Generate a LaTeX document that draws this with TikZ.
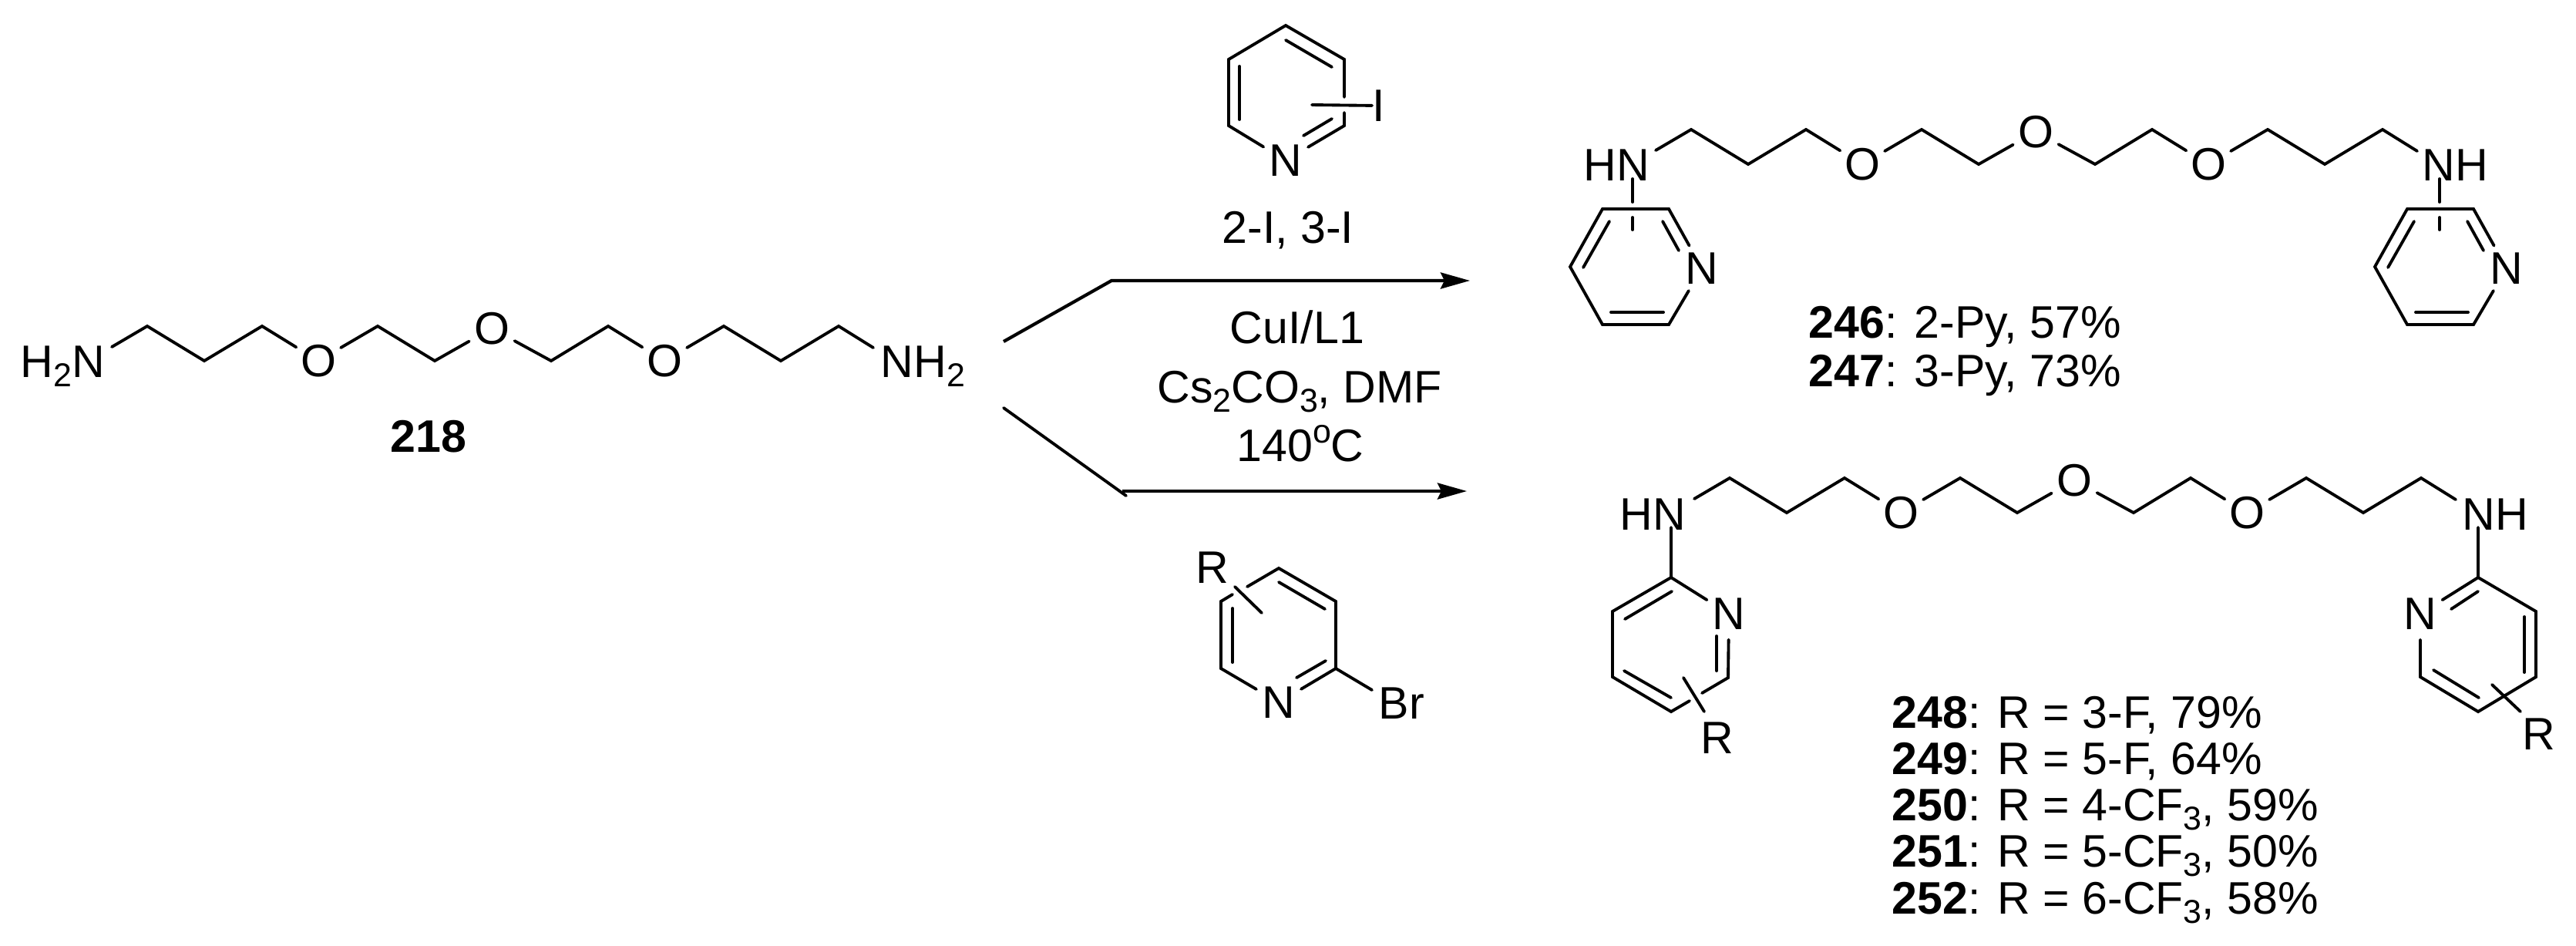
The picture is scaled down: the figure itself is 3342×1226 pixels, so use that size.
\documentclass[tikz,border=0pt]{standalone}
\usepackage{fontspec}
\setmainfont{Liberation Sans}
\usetikzlibrary{arrows.meta}
\newcommand{\lowered}[1]{\raisebox{-0.21em}{\fontsize{12.2}{12.2}\selectfont #1}}
\newcommand{\raised}[1]{\raisebox{0.40em}{\fontsize{12.2}{12.2}\selectfont #1}}
\newcommand{\entry}[4]{%
  \node[lbl,anchor=base west] (#1) at (#2,#3) {\textbf{#1}: #4};}
\tikzset{
  bond/.style={line width=1.1pt,line cap=round},
  lbl/.style={font=\fontsize{16.8}{16.8}\selectfont,inner sep=0pt,anchor=base},
  atom/.style={font=\fontsize{16.8}{16.8}\selectfont,circle,inner sep=0pt,minimum size=0.66cm},
  rxn/.style={line width=1.2pt,-{Stealth[length=0.38cm,width=0.21cm,inset=0.05cm]}},
}
% the ether chain, same drawing for 218 and both products
\newcommand{\linker}[3]{%
  \begin{scope}[shift={(#2,#3)}]
    \foreach \n/\x/\y in {s/145/450,c1/191/423,c2/265/468,c3/340/423,c4/490/423,
      c5/564/468,c6/715/468,c7/789/423,c8/939/423,c9/1013/468,c10/1088/423,e/1133/451}{%
      \coordinate (#1\n) at (\x,\y);
    }
    \node[atom] (#1o1) at (413,468) {O};
    \node[atom] (#1o2) at (638,426) {O};
    \node[atom] (#1o3) at (862,468) {O};
    \draw[bond] (#1s) -- (#1c1) -- (#1c2) -- (#1c3) -- (#1o1) -- (#1c4) -- (#1c5)
      -- (#1o2) -- (#1c6) -- (#1c7) -- (#1o3) -- (#1c8) -- (#1c9) -- (#1c10) -- (#1e);
  \end{scope}}
\begin{document}
\begin{tikzpicture}[x=0.01cm,y=-0.01cm]
  \useasboundingbox (0,0) rectangle (3342,1226);

  % starting diamine
  \linker{a}{0}{0}
  \node[lbl,anchor=base west] (h2n) at (26,489) {H\lowered{2}N};
  \node[lbl,anchor=base west] (nh2) at (1142,489) {NH\lowered{2}};
  \node[lbl] (n218) at (556,586) {\textbf{218}};

  % products
  \linker{b}{2003}{-255}
  \linker{d}{2053}{197}
  \node[lbl,anchor=base west] (hnb) at (2054,234) {HN};
  \node[lbl,anchor=base west] (nhb) at (3142,234) {NH};
  \node[lbl,anchor=base west] (hnd) at (2101,687) {HN};
  \node[lbl,anchor=base west] (nhd) at (3194,687) {NH};

  % iodopyridine
  \foreach \n/\x/\y in {ia1/1668/33,ia2/1744/77,ia3/1744/163,ia5/1594/163,ia6/1594/77,
    ib1/1744/126,ib2/1744/146,ib3/1702/136,ic1/1668/52,ic2/1728/87,
    ic3/1608/86,ic4/1608/155,ic5/1691/176,ic6/1728/154}{%
    \coordinate (\n) at (\x,\y);
  }
  \node[atom] (iN) at (1668,208) {N};
  \node[lbl,anchor=center] (iI) at (1789,137) {I};
  \draw[bond] (iN) -- (ia5) -- (ia6) -- (ia1) -- (ia2) -- (ib1);
  \draw[bond] (ib2) -- (ia3) -- (iN);
  \draw[bond] (ib3) -- (iI);
  \draw[bond] (ic1) -- (ic2);
  \draw[bond] (ic3) -- (ic4);
  \draw[bond] (ic5) -- (ic6);
  \node[lbl] (iname) at (1671,315) {2-I, 3-I};

  % bromopyridine
  \foreach \n/\x/\y in {ra1/1659/737,ra2/1733/780,ra3/1733/867,ra5/1584/867,ra6/1584/780,
    rb1/1618/761,rb2/1599/771,rb3/1602/761,rb4/1637/795,rc1/1659/755,rc2/1719/790,
    rc3/1599/789,rc4/1599/859,rc5/1682/879,rc6/1720/857,rd/1780/895}{%
    \coordinate (\n) at (\x,\y);
  }
  \node[atom] (rN) at (1659,911) {N};
  \node[lbl] (rR) at (1573,756) {R};
  \node[lbl,anchor=base west] (rBr) at (1788,932) {Br};
  \draw[bond] (rb1) -- (ra1) -- (ra2) -- (ra3) -- (rN) -- (ra5) -- (ra6) -- (rb2);
  \draw[bond] (ra3) -- (rd);
  \draw[bond] (rb3) -- (rb4);
  \draw[bond] (rc1) -- (rc2);
  \draw[bond] (rc3) -- (rc4);
  \draw[bond] (rc5) -- (rc6);

  % arrows
  \foreach \n/\x/\y in {u1/1302/443,u2/1442/364,u3/1907/364,
    v1/1302/529,v2/1461/643,v3/1456/637,v4/1903/637}{%
    \coordinate (\n) at (\x,\y);
  }
  \draw[rxn] (u1) -- (u2) -- (u3);
  \draw[bond] (v1) -- (v2);
  \draw[rxn] (v3) -- (v4);
  \node[lbl] (cond1) at (1683,445) {CuI/L1};
  \node[lbl] (cond2) at (1686,522) {Cs\lowered{2}CO\lowered{3}, DMF};
  \node[lbl] (cond3) at (1687,598) {140\raised{o}C};

  % pyridyl rings of 246/247, right one is the left one moved over
  \foreach \p/\dx in {l/0,m/1044}{%
    \begin{scope}[shift={(\dx,0)}]
      \foreach \n/\x/\y in {1/2079/271,2/2165/271,3/2165/421,4/2079/421,5/2037/346,
        6/2157/287,7/2178/325,8/2090/405,9/2158/405,10/2054/347,11/2088/287}{%
        \coordinate (\p\n) at (\x,\y);
      }
      \node[atom] (\p N) at (2208,348) {N};
      \draw[bond] (\p N) -- (\p 2) -- (\p 1) -- (\p 5) -- (\p 4) -- (\p 3) -- (\p N);
      \draw[bond] (\p 6) -- (\p 7);
      \draw[bond] (\p 8) -- (\p 9);
      \draw[bond] (\p 10) -- (\p 11);
    \end{scope}
  }
  \foreach \p/\x in {l/2118,m/3165}{%
    \coordinate (\p s1) at (\x,232);
    \coordinate (\p s2) at (\x,262);
    \coordinate (\p s3) at (\x,282);
    \coordinate (\p s4) at (\x,298);
    \draw[bond] (\p s1) -- (\p s2);
    \draw[bond] (\p s3) -- (\p s4);
  }

  % left ring of 248-252
  \foreach \n/\x/\y in {f1/2168/749,f2/2092/793,f3/2092/878,f4/2168/923,f5/2242/879,
    f6/2192/909,f7/2208/899,f8/2168/684,f9/2169/767,f10/2108/803,f11/2107/870,
    f12/2168/905,f13/2227/825,f14/2227/870,f15/2184/879,f16/2211/923}{%
    \coordinate (\n) at (\x,\y);
  }
  \node[atom] (fN) at (2243,796) {N};
  \node[lbl] (fR) at (2228,977) {R};
  \draw[bond] (f8) -- (f1) -- (fN) -- (f5) -- (f7);
  \draw[bond] (f6) -- (f4) -- (f3) -- (f2) -- (f1);
  \draw[bond] (f9) -- (f10);
  \draw[bond] (f11) -- (f12);
  \draw[bond] (f13) -- (f14);
  \draw[bond] (f15) -- (f16);

  % right ring of 248-252
  \foreach \n/\x/\y in {g1/3215/749,g2/3290/793,g3/3290/878,g4/3215/923,g5/3140/878,
    g8/3215/684,g9/3215/767,g10/3180/790,g11/3275/800,g12/3275/872,g13/3157/869,
    g14/3216/905,g15/3233/888,g16/3270/923}{%
    \coordinate (\n) at (\x,\y);
  }
  \node[atom] (gN) at (3140,796) {N};
  \node[lbl] (gR) at (3294,972) {R};
  \draw[bond] (g8) -- (g1) -- (g2) -- (g3) -- (g4) -- (g5) -- (gN) -- (g1);
  \draw[bond] (g9) -- (g10);
  \draw[bond] (g11) -- (g12);
  \draw[bond] (g13) -- (g14);
  \draw[bond] (g15) -- (g16);

  % yields
  \entry{246}{2346}{438}{2-Py, 57\%}
  \entry{247}{2346}{501}{3-Py, 73\%}
  \entry{248}{2454}{944}{R = 3-F, 79\%}
  \entry{249}{2454}{1004}{R = 5-F, 64\%}
  \entry{250}{2454}{1064}{R = 4-CF\lowered{3}, 59\%}
  \entry{251}{2454}{1124}{R = 5-CF\lowered{3}, 50\%}
  \entry{252}{2454}{1185}{R = 6-CF\lowered{3}, 58\%}
\end{tikzpicture}
\end{document}
